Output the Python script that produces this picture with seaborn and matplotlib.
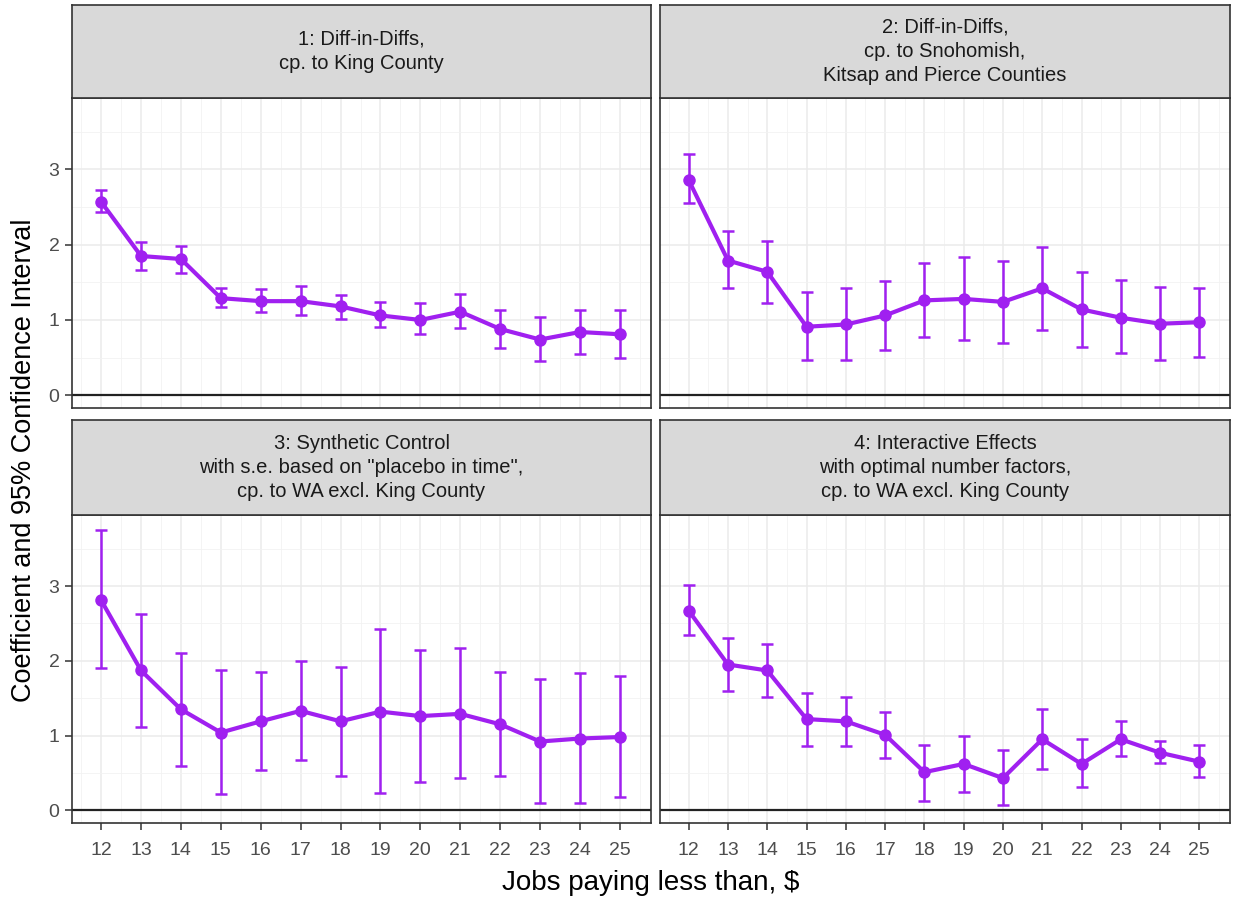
import numpy as np
import pandas as pd
import matplotlib
matplotlib.use("Agg")
import matplotlib.pyplot as plt
from matplotlib.ticker import MultipleLocator
import seaborn as sns

# wage thresholds
wages = [12, 13, 14, 15, 16, 17, 18, 19, 20, 21, 22, 23, 24, 25]

titles = [
    "1: Diff-in-Diffs,\ncp. to King County",
    "2: Diff-in-Diffs,\ncp. to Snohomish,\nKitsap and Pierce Counties",
    "3: Synthetic Control\nwith s.e. based on \"placebo in time\",\ncp. to WA excl. King County",
    "4: Interactive Effects\nwith optimal number factors,\ncp. to WA excl. King County",
]

coef1 = [2.57, 1.85, 1.81, 1.29, 1.25, 1.25, 1.18, 1.06, 1.00, 1.11, 0.88, 0.74, 0.84, 0.81]
lo1 = [2.43, 1.66, 1.63, 1.17, 1.11, 1.06, 1.01, 0.90, 0.81, 0.89, 0.63, 0.45, 0.55, 0.50]
hi1 = [2.73, 2.04, 1.98, 1.43, 1.41, 1.45, 1.33, 1.24, 1.22, 1.34, 1.13, 1.04, 1.13, 1.13]

coef2 = [2.86, 1.79, 1.64, 0.91, 0.94, 1.06, 1.26, 1.28, 1.24, 1.42, 1.14, 1.03, 0.95, 0.97]
lo2 = [2.55, 1.42, 1.23, 0.47, 0.47, 0.60, 0.77, 0.73, 0.70, 0.87, 0.64, 0.56, 0.47, 0.51]
hi2 = [3.20, 2.18, 2.05, 1.37, 1.43, 1.52, 1.76, 1.84, 1.79, 1.97, 1.64, 1.53, 1.44, 1.42]

coef3 = [2.81, 1.87, 1.35, 1.04, 1.19, 1.33, 1.19, 1.32, 1.26, 1.29, 1.15, 0.92, 0.96, 0.98]
lo3 = [1.90, 1.12, 0.59, 0.22, 0.54, 0.67, 0.46, 0.23, 0.38, 0.43, 0.46, 0.10, 0.10, 0.18]
hi3 = [3.75, 2.62, 2.10, 1.88, 1.85, 2.00, 1.92, 2.42, 2.15, 2.17, 1.85, 1.75, 1.84, 1.80]

coef4 = [2.67, 1.95, 1.87, 1.22, 1.19, 1.01, 0.51, 0.62, 0.43, 0.95, 0.62, 0.95, 0.77, 0.65]
lo4 = [2.34, 1.60, 1.52, 0.86, 0.86, 0.70, 0.13, 0.25, 0.07, 0.55, 0.31, 0.72, 0.63, 0.44]
hi4 = [3.02, 2.30, 2.22, 1.57, 1.51, 1.32, 0.88, 0.99, 0.80, 1.35, 0.96, 1.19, 0.93, 0.87]

frames = []
for t, c, lo, hi in zip(titles, [coef1, coef2, coef3, coef4],
                        [lo1, lo2, lo3, lo4], [hi1, hi2, hi3, hi4]):
    frames.append(pd.DataFrame({"model": t, "wage": wages, "coef": c, "lo": lo, "hi": hi}))
df = pd.concat(frames, ignore_index=True)

sns.set_theme(style="white")
plt.rcParams["font.family"] = ["Liberation Sans", "DejaVu Sans"]

purple = "#A020F0"
W, H = 1238, 899
fig = plt.figure(figsize=(W / 100, H / 100), dpi=100)

# panel boxes in pixels: (left, right), (strip_top, panel_top, panel_bottom)
cols = [(72, 651), (660, 1230)]
rows = [(5, 98, 408), (420, 515, 823)]

for i, t in enumerate(titles):
    r, c = divmod(i, 2)
    x0, x1 = cols[c]
    s0, p0, p1 = rows[r]
    ax = fig.add_axes([x0 / W, 1 - p1 / H, (x1 - x0) / W, (p1 - p0) / H])
    sub = df[df["model"] == t]

    ax.set_facecolor("white")
    ax.set_xlim(11.27, 25.78)
    ax.set_ylim(-0.17, 3.95)
    ax.xaxis.set_major_locator(MultipleLocator(1))
    ax.xaxis.set_minor_locator(MultipleLocator(0.5))
    ax.yaxis.set_major_locator(MultipleLocator(1))
    ax.yaxis.set_minor_locator(MultipleLocator(0.5))
    ax.grid(True, which="major", color="#EBEBEB", lw=1.1)
    ax.grid(True, which="minor", color="#F2F2F2", lw=0.6)
    ax.set_axisbelow(True)

    ax.axhline(0, color="#222222", lw=1.6, zorder=2)
    ax.errorbar(sub["wage"], sub["coef"],
                yerr=[sub["coef"] - sub["lo"], sub["hi"] - sub["coef"]],
                fmt="none", ecolor=purple, elinewidth=1.8, capsize=4, capthick=1.8, zorder=3)
    sns.lineplot(data=sub, x="wage", y="coef", ax=ax, color=purple, lw=3,
                 marker="o", markersize=9, markeredgewidth=0, zorder=4)

    for sp in ax.spines.values():
        sp.set_color("#333333")
        sp.set_linewidth(1.2)

    ax.tick_params(axis="both", which="major", length=5, width=1.1, color="#333333",
                   labelsize=14, labelcolor="#4D4D4D", pad=4,
                   bottom=(r == 1), left=(c == 0),
                   labelbottom=(r == 1), labelleft=(c == 0))
    ax.tick_params(axis="x", which="major", pad=9)
    ax.tick_params(axis="both", which="minor", length=0)
    ax.set_xlabel("")
    ax.set_ylabel("")

    # facet strip
    sax = fig.add_axes([x0 / W, 1 - p0 / H, (x1 - x0) / W, (p0 - s0) / H])
    sax.set_facecolor("#D9D9D9")
    sax.set_xticks([])
    sax.set_yticks([])
    for sp in sax.spines.values():
        sp.set_color("#333333")
        sp.set_linewidth(1.2)
    sax.text(0.5, 0.5, t, ha="center", va="center", fontsize=14.5,
             color="#1A1A1A", linespacing=1.35, transform=sax.transAxes)

fig.text((72 + 1230) / 2 / W, 1 - 883 / H, "Jobs paying less than, $",
         ha="center", va="center", fontsize=20, color="black")
fig.text(24 / W, 1 - 460 / H, "Coefficient and 95% Confidence Interval",
         ha="center", va="center", rotation=90, fontsize=19.5, color="black")

fig.savefig("out.png", dpi=100, facecolor="white")
